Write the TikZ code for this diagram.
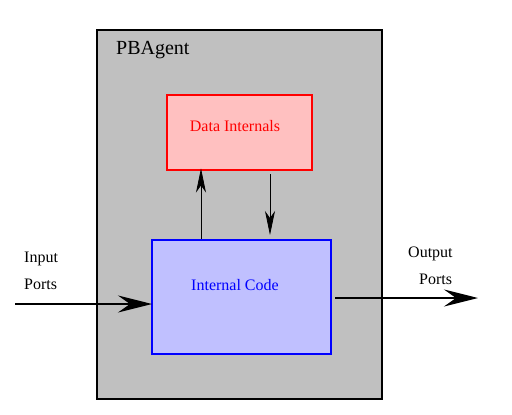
\documentclass[tikz,border=0pt]{standalone}
\usepackage{fontspec}
\setmainfont{Liberation Serif}
\usetikzlibrary{arrows.meta}
\definecolor{agentgray}{RGB}{192,192,192}
\definecolor{datafill}{RGB}{255,192,192}
\definecolor{codefill}{RGB}{192,192,255}
\begin{document}
\begin{tikzpicture}[x=1pt,y=-1pt,
  box/.style={draw,line width=1.5pt,inner sep=0pt,anchor=north west},
  lbl/.style={inner sep=0pt,font=\fontsize{16}{19}\selectfont},
  bigarrow/.style={line width=1.8pt,-{Stealth[length=34pt,width=17pt,inset=12pt]}},
  smallarrow/.style={line width=0.8pt,-{Stealth[length=24pt,width=10pt,inset=7pt]}}]
\useasboundingbox (0,0) rectangle (512,415);
\node[box,fill=agentgray,minimum width=285pt,minimum height=369pt] (agent) at (96,29) {};
\node[lbl,anchor=west,font=\fontsize{20}{24}\selectfont] (title) at (116,50) {PBAgent};
\node[box,draw=red,fill=datafill,minimum width=145pt,minimum height=75pt] (data) at (166,94) {};
\node[lbl,text=red] (datatext) at (235,126) {Data Internals};
\node[box,draw=blue,fill=codefill,minimum width=179pt,minimum height=114pt] (code) at (151,239) {};
\node[lbl,text=blue] (codetext) at (235,285) {Internal Code};
\coordinate (upstart) at (201,238.5);
\coordinate (upend) at (201,168.5);
\coordinate (downstart) at (270,174);
\coordinate (downend) at (270,235);
\draw[smallarrow] (upstart) -- (upend);
\draw[smallarrow] (downstart) -- (downend);
\coordinate (instart) at (15,304);
\coordinate (inend) at (152,304);
\coordinate (outstart) at (335,298);
\coordinate (outend) at (478,298);
\draw[bigarrow] (instart) -- (inend);
\draw[bigarrow] (outstart) -- (outend);
\node[lbl,anchor=west] (in1) at (24,259) {Input};
\node[lbl,anchor=west] (in2) at (24,284) {Ports};
\node[lbl,anchor=west] (out1) at (408,254) {Output};
\node[lbl,anchor=west] (out2) at (419,279) {Ports};
\end{tikzpicture}
\end{document}
